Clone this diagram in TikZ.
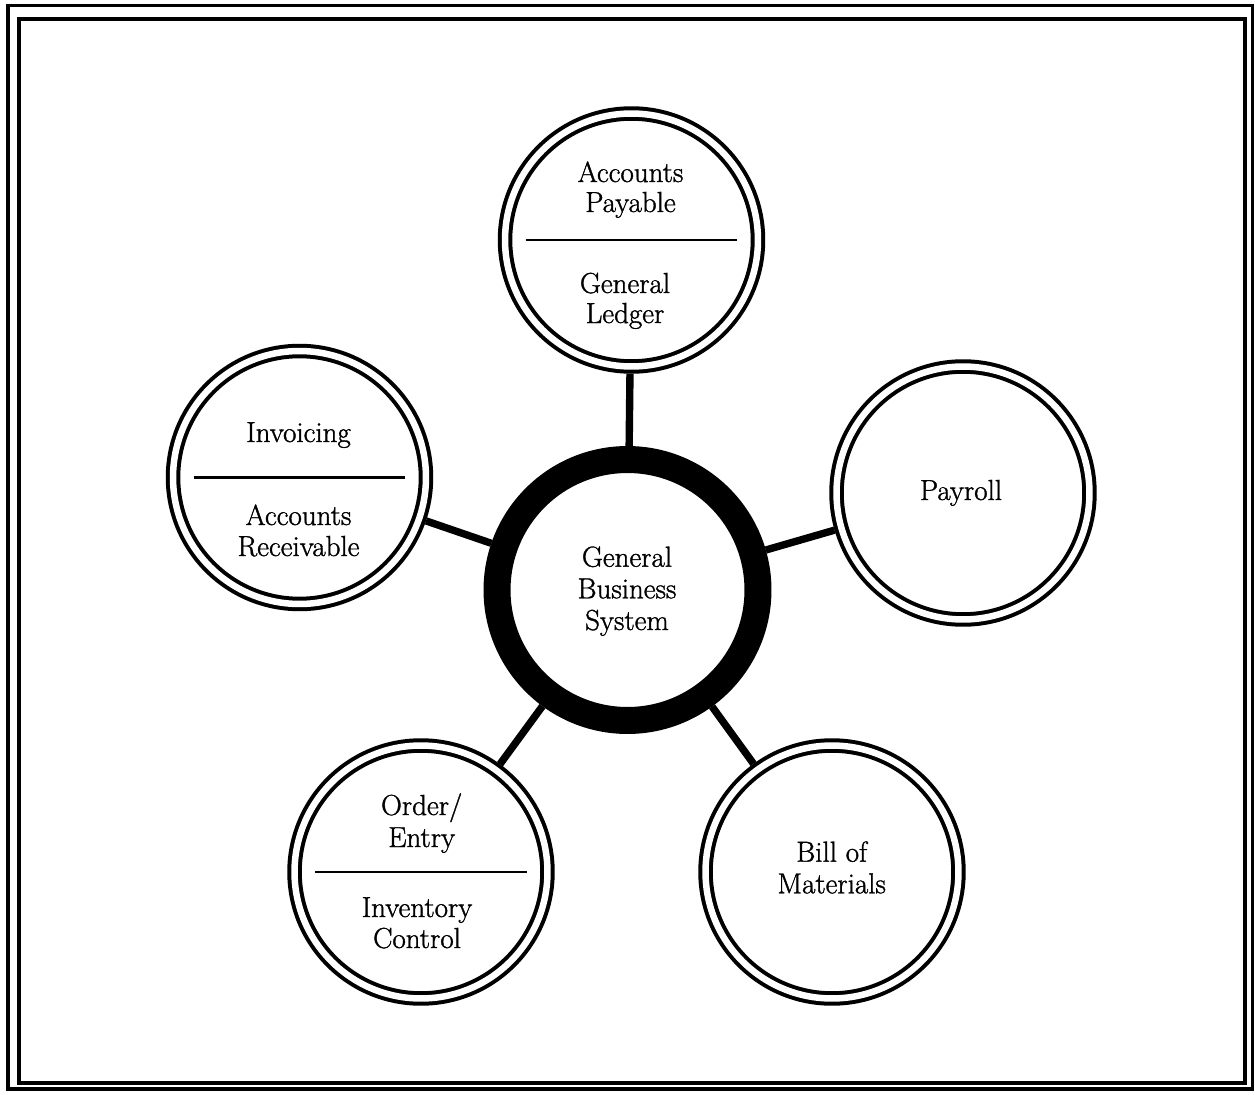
\documentclass[tikz,border=0pt]{standalone}
\usepackage{amsmath}
\usepackage{fontspec}
\setmainfont{Latin Modern Roman}[FakeBold=1.2]
\usepackage{tikz}

\tikzset{
  module/.style={draw, double, shape=circle, line width=2.28pt, double distance=3.7pt,
    minimum size=5.06cm, inner sep=0pt, outer sep=0.145cm},
  hub/.style={draw, shape=circle, line width=0.54cm, minimum size=5.22cm,
    inner sep=0pt, outer sep=0.27cm},
  lbl/.style={anchor=base, inner sep=0pt, font=\fontsize{16.5}{18}\selectfont},
  link/.style={line width=4.2pt},
  divider/.style={line width=1.7pt}
}

\begin{document}
\begin{tikzpicture}[x=0.02cm, y=-0.02cm]

\useasboundingbox (0,0) rectangle (1255,1095);

% frame
\draw[line width=2pt] (8,5.5) rectangle (1252.5,1089);
\draw[line width=2pt] (19,19) rectangle (1245,1083);

\node[hub] (gbs) at (627.5,590) {};
\node[module] (ap) at (631.5,240) {};
\node[module] (inv) at (299.5,477.5) {};
\node[module] (pay) at (963,493) {};
\node[module] (oe) at (421,872) {};
\node[module] (bom) at (832,872) {};

\draw[divider] ([xshift=-2.12cm]ap.center) -- ([xshift=2.12cm]ap.center);
\draw[divider] ([xshift=-2.12cm]inv.center) -- ([xshift=2.12cm]inv.center);
\draw[divider] ([xshift=-2.12cm]oe.center) -- ([xshift=2.12cm]oe.center);

\node[lbl] (gbs1) at (627,566.7) {General};
\node[lbl] (gbs2) at (627,598.3) {Business};
\node[lbl] (gbs3) at (627,630) {System};

\node[lbl] (ap1) at (630.5,182) {Accounts};
\node[lbl] (ap2) at (630.5,212) {Payable};
\node[lbl] (gl1) at (625,293) {General};
\node[lbl] (gl2) at (625,323) {Ledger};

\node[lbl] (inv1) at (298.5,442) {Invoicing};
\node[lbl] (ar1) at (298.5,525) {Accounts};
\node[lbl] (ar2) at (298.5,556) {Receivable};

\node[lbl] (pay1) at (961,500) {Payroll};

\node[lbl] (bom1) at (831.7,861.7) {Bill of};
\node[lbl] (bom2) at (831.7,893.3) {Materials};

\node[lbl] (oe1) at (421.7,815) {Order/};
\node[lbl] (oe2) at (421.7,847) {Entry};
\node[lbl] (ic1) at (417,917) {Inventory};
\node[lbl] (ic2) at (417,948) {Control};

\draw[link] (gbs) -- (ap);
\draw[link] (gbs) -- (inv);
\draw[link] (gbs) -- (pay);
\draw[link] (gbs) -- (oe);
\draw[link] (gbs) -- (bom);

\end{tikzpicture}
\end{document}
